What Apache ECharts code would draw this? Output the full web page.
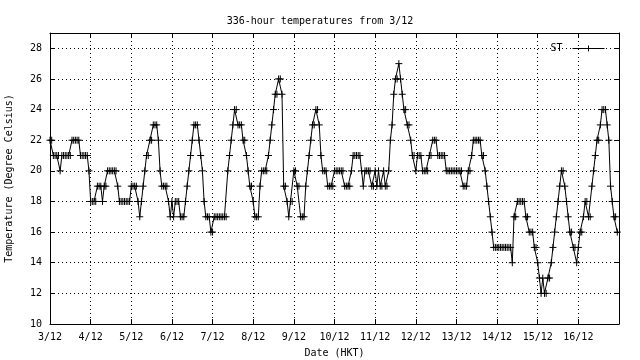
<!DOCTYPE html>
<html>
<head>
<meta charset="utf-8">
<script src="https://cdn.jsdelivr.net/npm/echarts@6/dist/echarts.min.js"></script>
<style>html,body{margin:0;padding:0;background:#fff}#c{width:640px;height:360px}</style>
</head>
<body>
<div id="c"></div>
<script>
var titleText = '336-hour temperatures from 3/12';
var seriesName = 'ST';
var dateLabels = ['3/12','4/12','5/12','6/12','7/12','8/12','9/12','10/12','11/12','12/12','13/12','14/12','15/12','16/12'];
var yTicks = [10,12,14,16,18,20,22,24,26,28];
// hourly temperatures (deg C), one row per day
var temps = [
  22,22,21,21,21,21,20,21,21,21,21,21,21,22,22,22,22,22,21,21,21,21,21,20,
  18,18,18,18,19,19,19,18,19,19,20,20,20,20,20,20,19,18,18,18,18,18,18,18,
  19,19,19,19,18,17,18,19,20,21,21,22,22,23,23,23,22,20,19,19,19,19,18,17,
  18,17,18,18,18,17,17,17,18,19,20,21,22,23,23,23,22,21,20,18,17,17,17,16,
  16,17,17,17,17,17,17,17,17,20,21,22,23,24,24,23,23,23,22,22,21,20,19,19,
  18,17,17,17,19,20,20,20,20,21,22,23,24,25,25,26,26,25,19,19,18,17,18,18,
  20,20,19,19,17,17,17,19,20,21,22,23,23,24,24,23,21,20,20,20,19,19,19,19,
  20,20,20,20,20,20,19,19,19,19,20,21,21,21,21,21,20,19,20,20,20,20,19,19,
  20,19,20,19,19,20,19,19,20,22,23,25,26,26,27,26,25,24,24,23,23,22,21,21,
  20,21,21,21,20,20,20,20,21,21,22,22,22,21,21,21,21,21,20,20,20,20,20,20,
  20,20,20,20,19,19,19,20,20,21,22,22,22,22,22,21,21,20,19,18,17,16,15,15,
  15,15,15,15,15,15,15,15,15,14,17,17,18,18,18,18,18,17,17,16,16,16,15,15,
  14,13,12,13,12,12,13,13,14,15,16,17,18,19,20,20,19,18,17,16,16,15,15,14,
  15,16,16,17,18,18,17,17,19,20,21,22,22,23,24,24,24,23,22,19,18,17,17,16
];

var FONT = 'DejaVu Sans Mono';
var txt = {color:'#000', fontFamily: FONT, fontSize: 10};
var dots = {color:'#000', width:1, type:[1,3]};
var data = temps.map(function(v,i){return [i, v];});

var chart = echarts.init(document.getElementById('c'), null, {renderer:'canvas'});
var xBase = {
  type:'value', min:0, max:336, interval:24,
  axisLine:{show:true, onZero:false, lineStyle:{color:'#000', width:1}},
  axisTick:{show:true, inside:true, length:5, lineStyle:{color:'#000'}},
  splitLine:{show:false}
};
var yBase = {
  type:'value', min:10, max:29, interval:2,
  axisLine:{show:true, onZero:false, lineStyle:{color:'#000', width:1}},
  axisTick:{show:true, inside:true, length:4, lineStyle:{color:'#000'}},
  splitLine:{show:false}
};
chart.setOption({
  animation:false,
  backgroundColor:'#fff',
  title:{text:titleText, left:'center', top:11, textStyle:{color:'#000', fontFamily:FONT, fontSize:10, fontWeight:'normal'}},
  legend:{
    show:true, right:28, top:38, align:'right', itemWidth:32, itemHeight:7, itemGap:8,
    textStyle:Object.assign({}, txt, {padding:[0,5,0,0]}),
    data:[{
      name:seriesName,
      icon:'path://M0,4L32,4M16,1L16,7',
      itemStyle:{color:'none', borderColor:'#000', borderWidth:1}
    }]
  },
  grid:{left:50, right:21, top:33, bottom:36, containLabel:false, outerBoundsMode:'none'},
  xAxis:[
    Object.assign({}, xBase, {
      position:'bottom',
      name:'Date (HKT)', nameLocation:'middle', nameGap:24, nameTextStyle:txt,
      axisLabel:Object.assign({}, txt, {margin:8, showMaxLabel:false,
        formatter:function(v){var i=Math.round(v/24); return dateLabels[i]||'';}}),
      splitLine:{show:true, lineStyle:dots}
    }),
    Object.assign({}, xBase, {position:'top', axisLabel:{show:false}})
  ],
  yAxis:[
    Object.assign({}, yBase, {
      position:'left',
      name:'Temperature (Degree Celsius)', nameLocation:'middle', nameGap:36, nameTextStyle:txt,
      axisLabel:Object.assign({}, txt, {margin:8, showMaxLabel:false,
        formatter:function(v){return yTicks.indexOf(v)>=0 ? String(v) : '';}}),
      splitLine:{show:true, lineStyle:dots}
    }),
    Object.assign({}, yBase, {position:'right', axisLabel:{show:false}})
  ],
  series:[{
    name:seriesName, type:'line', data:data,
    xAxisIndex:0, yAxisIndex:0,
    symbol:'path://M0,5L10,5M5,0L5,10', symbolSize:7, showSymbol:true, showAllSymbol:true,
    lineStyle:{color:'#000', width:1},
    itemStyle:{color:'none', borderColor:'#000', borderWidth:1},
    clip:false
  }]
});
</script>
</body>
</html>
